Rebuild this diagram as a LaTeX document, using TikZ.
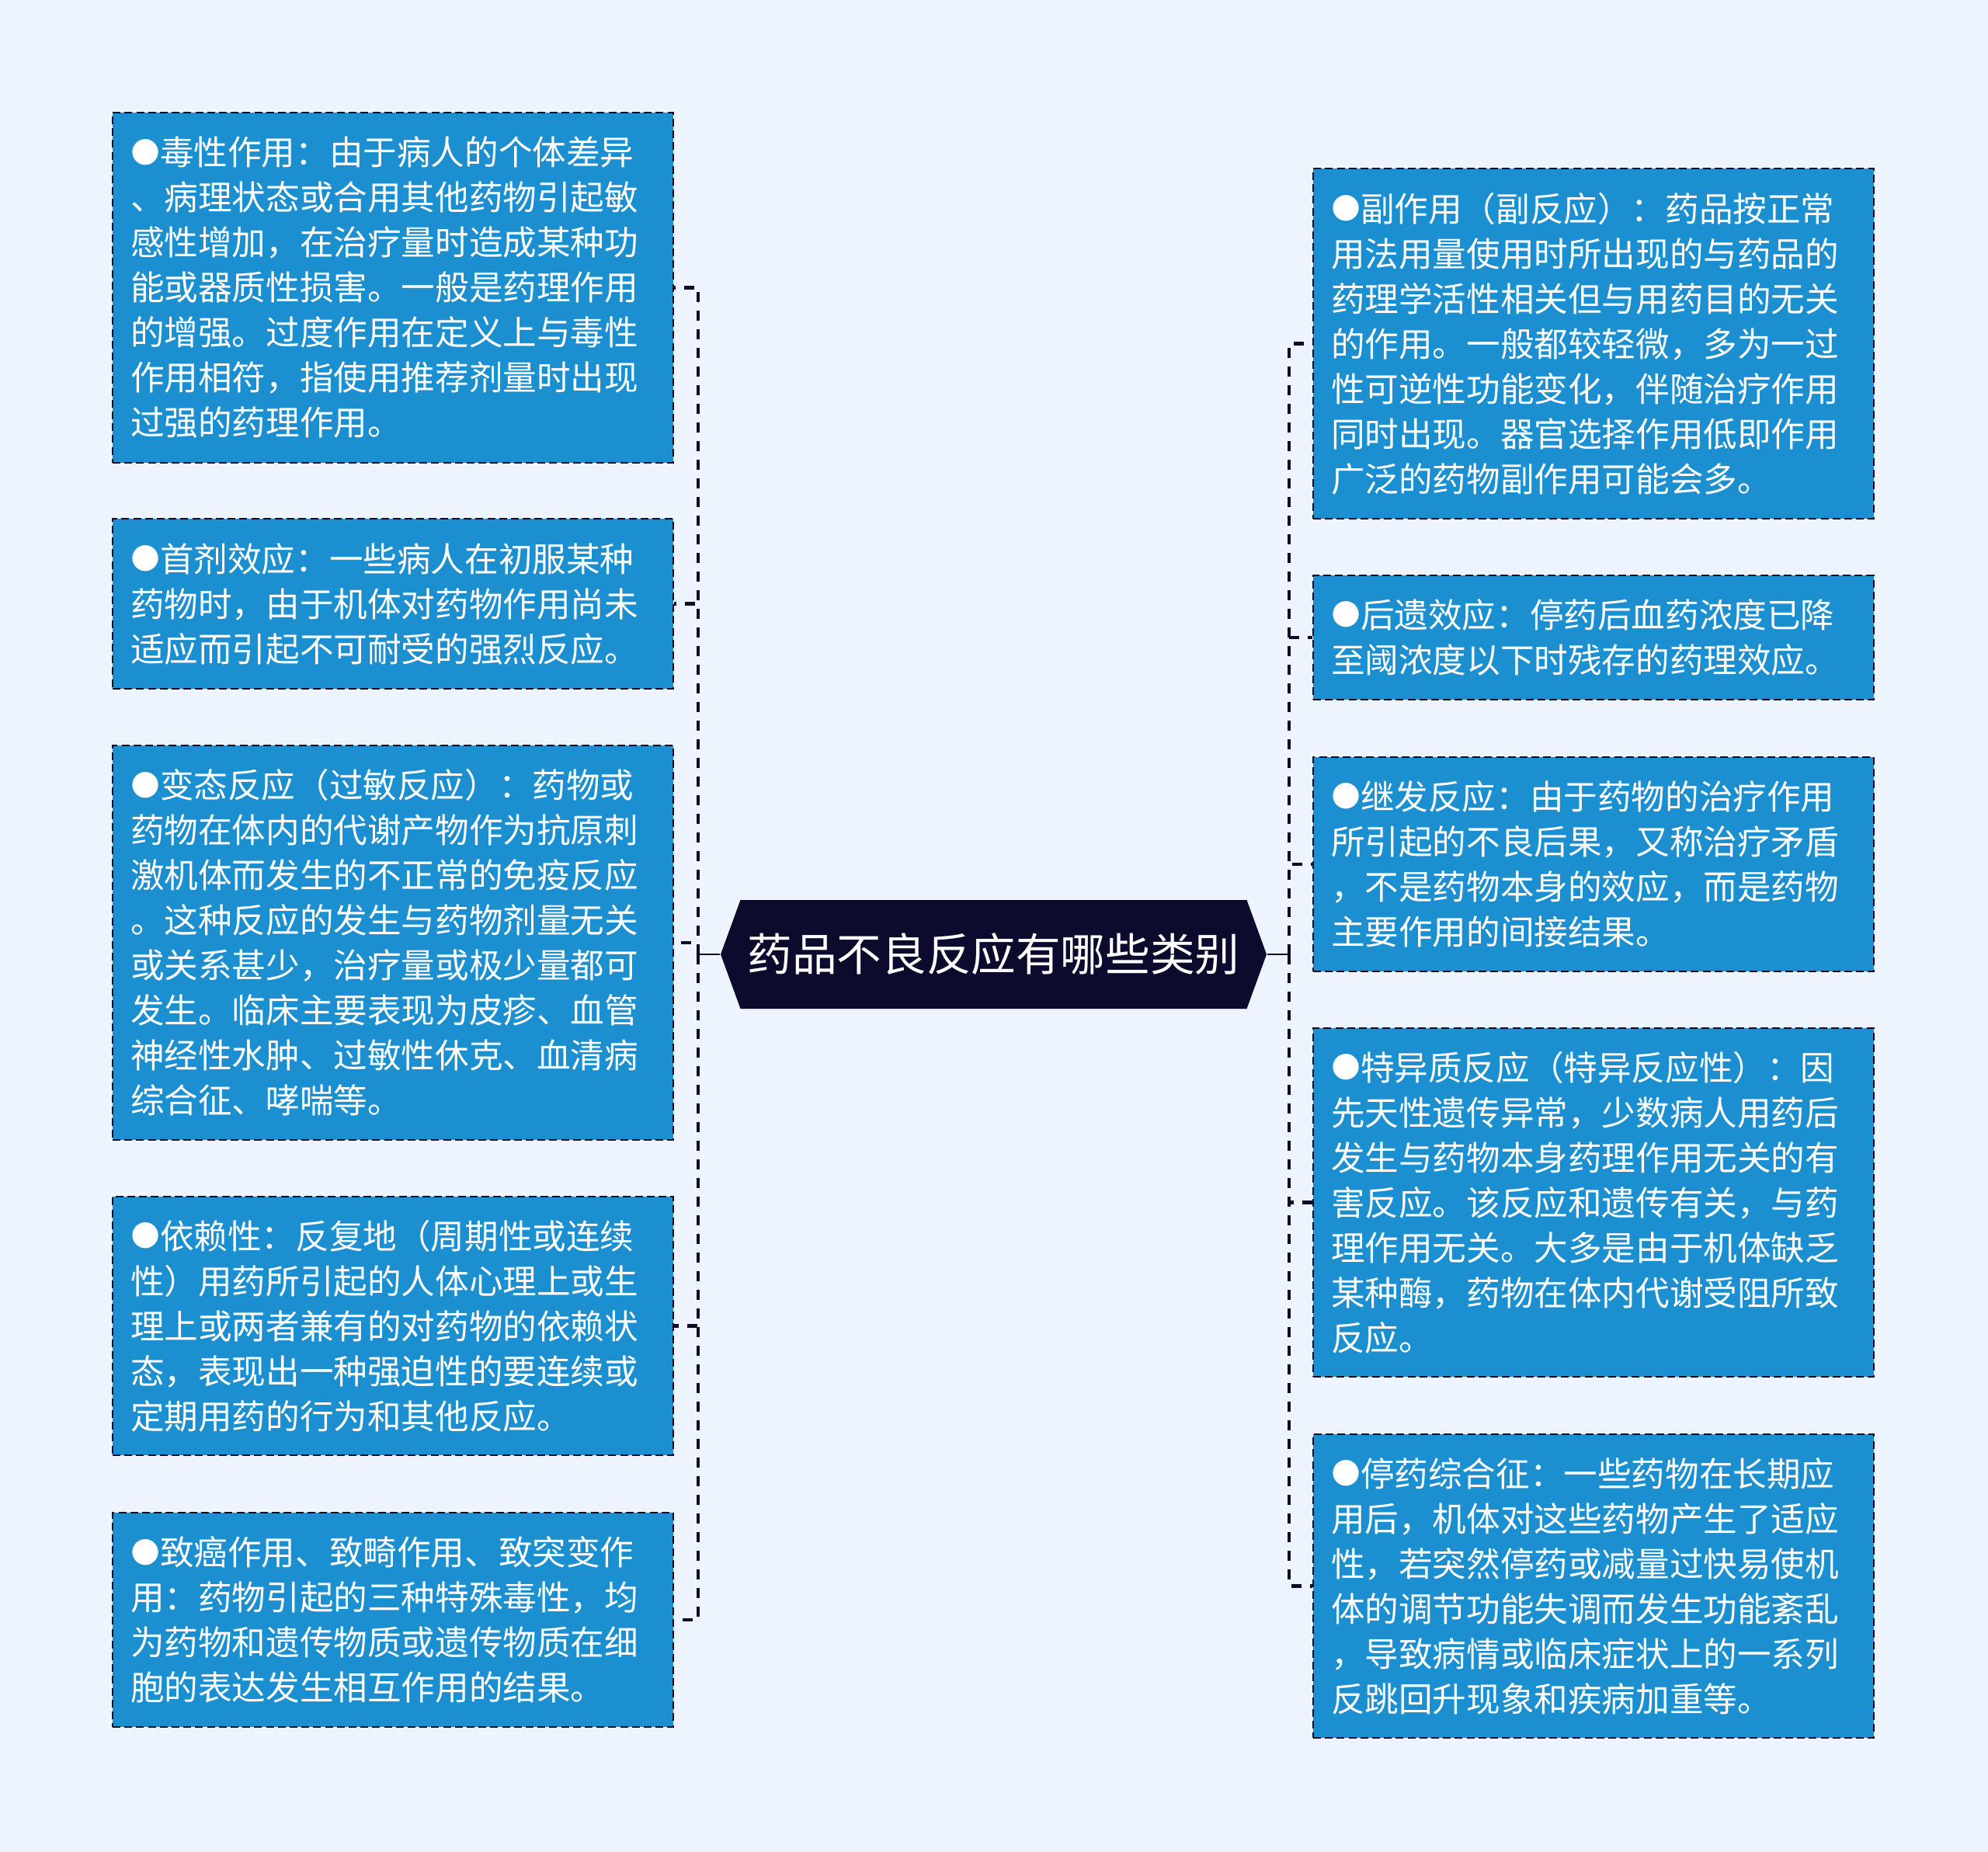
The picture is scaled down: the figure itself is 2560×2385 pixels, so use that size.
\documentclass[tikz,border=0pt]{standalone}
\usepackage{fontspec}
\setmainfont{Noto Sans CJK SC}
\newfontfamily\symfont{DejaVu Sans}
\newcommand\dotmark{\raisebox{0.13em}{\symfont ●}}
\usetikzlibrary{shapes.symbols}
\definecolor{bgcol}{RGB}{238,244,253}
\definecolor{leafcol}{RGB}{27,143,208}
\definecolor{linecol}{RGB}{12,12,40}
\definecolor{rootcol}{RGB}{12,10,45}
\tikzset{
  leaf/.style={draw=linecol, line width=0.6pt, dash pattern=on 2.5pt off 1.3pt,
    fill=leafcol, text=white, align=left, text width=169pt, inner xsep=5.75pt,
    inner ysep=0pt, font=\fontsize{10.9pt}{14.5pt}\selectfont},
  link/.style={draw=linecol, line width=1.2pt, dash pattern=on 3.25pt off 2.75pt},
  stem/.style={draw=linecol, line width=0.7pt}
}
\begin{document}
\begin{tikzpicture}[x=0.25pt,y=-0.25pt]
\useasboundingbox[fill=bgcol] (0,0) rectangle (2560,2385);

\node[signal, signal to=west and east, signal pointer angle=140, fill=rootcol,
  text=white, minimum width=175.75pt, minimum height=35pt, inner sep=0pt,
  font=\fontsize{14.4pt}{17pt}\selectfont] (root) at (1279.5,1229) {药品不良反应有哪些类别};

\node[leaf, minimum height=112.75pt] (l1) at (506,370.5) {\dotmark 毒性作用：由于病人的个体差异\\、病理状态或合用其他药物引起敏\\感性增加，在治疗量时造成某种功\\能或器质性损害。一般是药理作用\\的增强。过度作用在定义上与毒性\\作用相符，指使用推荐剂量时出现\\过强的药理作用。};
\node[leaf, minimum height=54.75pt] (l2) at (506,777.5) {\dotmark 首剂效应：一些病人在初服某种\\药物时，由于机体对药物作用尚未\\适应而引起不可耐受的强烈反应。};
\node[leaf, minimum height=127pt] (l3) at (506,1214) {\dotmark 变态反应（过敏反应）：药物或\\药物在体内的代谢产物作为抗原刺\\激机体而发生的不正常的免疫反应\\。这种反应的发生与药物剂量无关\\或关系甚少，治疗量或极少量都可\\发生。临床主要表现为皮疹、血管\\神经性水肿、过敏性休克、血清病\\综合征、哮喘等。};
\node[leaf, minimum height=83.25pt] (l4) at (506,1707.5) {\dotmark 依赖性：反复地（周期性或连续\\性）用药所引起的人体心理上或生\\理上或两者兼有的对药物的依赖状\\态，表现出一种强迫性的要连续或\\定期用药的行为和其他反应。};
\node[leaf, minimum height=69pt] (l5) at (506,2086) {\dotmark 致癌作用、致畸作用、致突变作\\用：药物引起的三种特殊毒性，均\\为药物和遗传物质或遗传物质在细\\胞的表达发生相互作用的结果。};

\node[leaf, minimum height=112.75pt] (r1) at (2052,442.5) {\dotmark 副作用（副反应）：药品按正常\\用法用量使用时所出现的与药品的\\药理学活性相关但与用药目的无关\\的作用。一般都较轻微，多为一过\\性可逆性功能变化，伴随治疗作用\\同时出现。器官选择作用低即作用\\广泛的药物副作用可能会多。};
\node[leaf, minimum height=40pt] (r2) at (2052,821) {\dotmark 后遗效应：停药后血药浓度已降\\至阈浓度以下时残存的药理效应。};
\node[leaf, minimum height=69pt] (r3) at (2052,1113) {\dotmark 继发反应：由于药物的治疗作用\\所引起的不良后果，又称治疗矛盾\\，不是药物本身的效应，而是药物\\主要作用的间接结果。};
\node[leaf, minimum height=112.25pt] (r4) at (2052,1548.5) {\dotmark 特异质反应（特异反应性）：因\\先天性遗传异常，少数病人用药后\\发生与药物本身药理作用无关的有\\害反应。该反应和遗传有关，与药\\理作用无关。大多是由于机体缺乏\\某种酶，药物在体内代谢受阻所致\\反应。};
\node[leaf, minimum height=97.75pt] (r5) at (2052,2042.5) {\dotmark 停药综合征：一些药物在长期应\\用后，机体对这些药物产生了适应\\性，若突然停药或减量过快易使机\\体的调节功能失调而发生功能紊乱\\，导致病情或临床症状上的一系列\\反跳回升现象和疾病加重等。};

\coordinate (lj) at (899,1229);
\coordinate (rj) at (1660,1229);
\draw[stem] (root.west) -- (lj);
\draw[stem] (root.east) -- (rj);
\foreach \n in {l1,l2,l3,l4,l5}
  \draw[link] (lj) |- (\n.east);
\foreach \n in {r1,r2,r3,r4,r5}
  \draw[link] (rj) |- (\n.west);
\end{tikzpicture}
\end{document}
